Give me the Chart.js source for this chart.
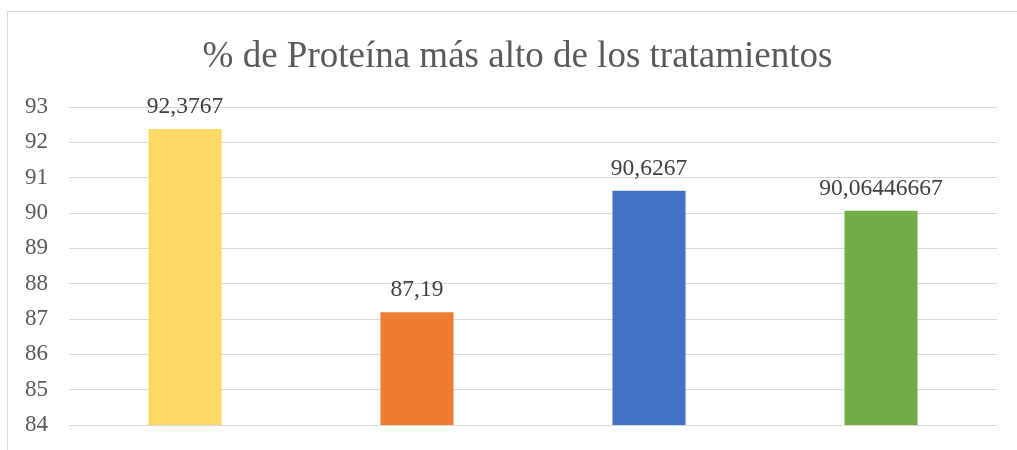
<!DOCTYPE html>
<html>
<head>
<meta charset="utf-8">
<script src="https://cdn.jsdelivr.net/npm/chart.js@4"></script>
<style>
  html, body { margin: 0; padding: 0; background: #fff; overflow: hidden; }
  #wrap { position: relative; width: 1017px; height: 450px; }
  #marco { position: absolute; left: 7px; top: 11px; width: 1100px; height: 500px;
           border: 1px solid #d9d9d9; pointer-events: none; }
</style>
</head>
<body>
<div id="wrap">
  <canvas id="myChart" width="1017" height="450"></canvas>
  <div id="marco"></div>
</div>
<script>
// Datos
const titulo = "% de Proteína más alto de los tratamientos";
const categorias = ["T1", "T2", "T3", "T4"];
const valores = [92.3767, 87.19, 90.6267, 90.06446667];
const etiquetas = ["92,3767", "87,19", "90,6267", "90,06446667"];
const colores = ["#FFD966", "#ED7D31", "#4472C4", "#70AD47"];

const fuente = '"Liberation Serif", "Times New Roman", serif';

// Plugin para escribir el valor encima de cada barra
const etiquetasBarras = {
  id: "etiquetasBarras",
  afterDatasetsDraw(chart) {
    const ctx = chart.ctx;
    const meta = chart.getDatasetMeta(0);
    ctx.save();
    ctx.font = "23.5px " + fuente;
    ctx.fillStyle = "#404040";
    ctx.textAlign = "center";
    ctx.textBaseline = "alphabetic";
    meta.data.forEach((bar, i) => {
      ctx.fillText(etiquetas[i], bar.x, bar.y - 16);
    });
    ctx.restore();
  },
};

function dibujar() {
  const ctx = document.getElementById("myChart");
  new Chart(ctx, {
    type: "bar",
    data: {
      labels: categorias,
      datasets: [
        {
          data: valores,
          backgroundColor: colores,
          categoryPercentage: 1,
          barPercentage: 0.315,
        },
      ],
    },
    options: {
      responsive: false,
      animation: false,
      layout: { padding: { left: 38, right: 20, top: 0, bottom: 25 } },
      plugins: {
        legend: { display: false },
        tooltip: { enabled: false },
        title: {
          display: true,
          text: titulo,
          color: "#595959",
          font: { family: fuente, size: 37, weight: "normal", lineHeight: 1.2 },
          padding: { top: 35, bottom: 27.6 },
        },
      },
      scales: {
        x: {
          display: false,
        },
        y: {
          min: 84,
          max: 93,
          ticks: {
            stepSize: 1,
            mirror: true,
            padding: -44,
            color: "#595959",
            font: { family: fuente, size: 23 },
          },
          grid: { color: "#d9d9d9", lineWidth: 1, drawTicks: false },
          border: { display: false },
          afterFit(scale) {
            scale.width = 31;
          },
        },
      },
    },
    plugins: [etiquetasBarras],
  });
}

document.fonts.load('23px "Liberation Serif"').then(dibujar, dibujar);
</script>
</body>
</html>
